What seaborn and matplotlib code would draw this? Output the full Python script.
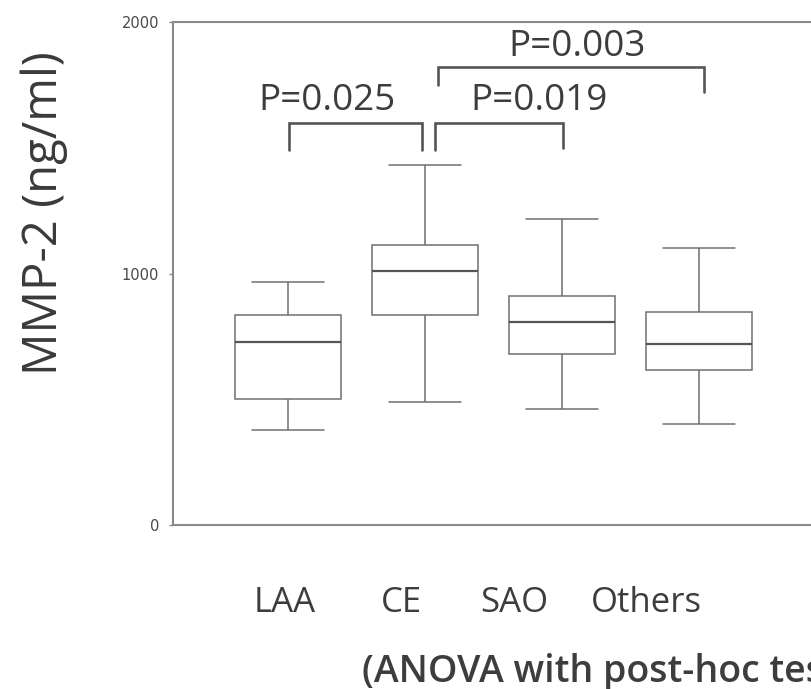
import numpy as np
import pandas as pd
import matplotlib
matplotlib.use("Agg")
import matplotlib.pyplot as plt
import seaborn as sns

# ---- data ----
groups = ["LAA", "CE", "SAO", "Others"]
whisker_low = [378, 489, 461, 402]
q1 = [501, 835, 680, 616]
median = [728, 1010, 807, 720]
q3 = [835, 1113, 911, 847]
whisker_high = [966, 1431, 1217, 1101]

yticks = [0, 1000, 2000]
ylabel = "MMP-2 (ng/ml)"
footnote = "(ANOVA with post-hoc test)"

# significance brackets: (left x, right x, top y, left leg bottom, right leg bottom)
bracket_x = [(0.007, 0.978), (1.073, 2.007), (1.095, 3.04)]
bracket_top = [1598, 1598, 1821]
bracket_bottom = [(1491, 1491), (1491, 1500), (1749, 1722)]
p_labels = ["P=0.025", "P=0.019", "P=0.003"]
p_label_x = [0.288, 1.832, 2.113]
p_label_y = [1686, 1686, 1902]

# group label positions (text under axis)
group_label_x = [-0.022, 0.825, 1.65, 2.613]

# ---- build long table: 5-point samples give exact quartiles ----
rows = []
for g, a, b, c, d, e in zip(groups, whisker_low, q1, median, q3, whisker_high):
    for v in (a, b, c, d, e):
        rows.append({"group": g, "value": v})
df = pd.DataFrame(rows)

sns.set_theme(style="white")
plt.rcParams["font.family"] = ["Open Sans", "DejaVu Sans"]

W, H = 812, 689
fig = plt.figure(figsize=(W / 100, H / 100), dpi=100)
ax_left, ax_right, ax_top, ax_bottom = 173, 900, 22, 525
ax = fig.add_axes([ax_left / W, 1 - ax_bottom / H,
                   (ax_right - ax_left) / W, (ax_bottom - ax_top) / H])

line_col = "#6f6f6f"
sns.boxplot(data=df, x="group", y="value", order=groups, ax=ax,
            whis=(0, 100), showfliers=False, width=0.78,
            color="white", linecolor=line_col, linewidth=1.1,
            capwidths=0.525,
            medianprops=dict(color="#555555", linewidth=1.6))

spacing = 137.0
ax.set_xlim((ax_left - 288) / spacing, (ax_right - 288) / spacing)
ax.set_ylim(0, 2000)
ax.set_yticks(yticks)
ax.set_yticklabels([str(t) for t in yticks], family="DejaVu Sans",
                   fontsize=10.5, color="#484848")
ax.tick_params(axis="y", length=3, width=1, color="#888888", pad=7, left=True)
ax.set_xticks([])
ax.set_xlabel("")
ax.set_ylabel("")

for side in ["left", "bottom", "top"]:
    ax.spines[side].set_visible(True)
    ax.spines[side].set_color("#8a8a8a")
    ax.spines[side].set_linewidth(1.5)
ax.spines["right"].set_visible(False)

# brackets
br_col = "#555555"
for (xl, xr), top, (bl, brb) in zip(bracket_x, bracket_top, bracket_bottom):
    ax.plot([xl, xl, xr, xr], [bl, top, top, brb], color=br_col,
            linewidth=1.9, solid_joinstyle="miter", clip_on=False)
for lab, x, y in zip(p_labels, p_label_x, p_label_y):
    ax.text(x, y, lab, ha="center", va="center", fontsize=26.5,
            color="#3d3d3d")

# group labels below axis
for lab, x in zip(groups, group_label_x):
    ax.text(x, -346, lab, ha="center", va="baseline", fontsize=25,
            color="#3d3d3d", clip_on=False)

ax.text(0.54, -624, footnote, ha="left", va="baseline", fontsize=27,
        fontweight="semibold", color="#3d3d3d", clip_on=False)

fig.text(44 / W, 1 - 213 / H, ylabel, rotation=90, ha="center",
         va="center", fontsize=34, color="#3a3a3a")

fig.savefig("out.png", dpi=100)
